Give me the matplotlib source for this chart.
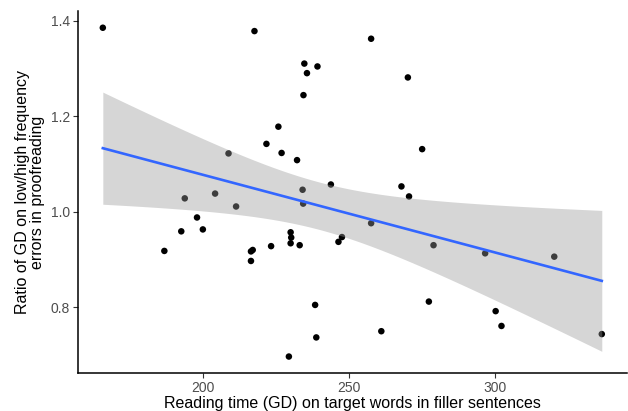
import numpy as np
import matplotlib
matplotlib.use("Agg")
import matplotlib.pyplot as plt

# reading time (GD) on target words in filler sentences
reading_time = [165.5, 217.5, 234.6, 235.5, 239.1, 234.3, 257.5, 270.1, 275.0, 225.7,
                221.6, 208.6, 226.8, 232.1, 234.0, 234.2, 193.6, 204.0, 211.2, 243.7,
                267.9, 270.5, 257.5, 247.5, 246.3, 278.9, 296.6, 320.3, 233.0, 238.3,
                238.7, 261.0, 277.3, 300.2, 302.2, 336.6, 186.6, 192.4, 197.8, 199.8,
                216.3, 216.3, 216.9, 223.2, 229.9, 230.1, 229.9, 229.3]
# ratio of GD on low/high frequency errors in proofreading
gd_ratio = [1.385, 1.378, 1.310, 1.290, 1.304, 1.244, 1.362, 1.281, 1.131, 1.178,
            1.142, 1.122, 1.123, 1.108, 1.046, 1.017, 1.028, 1.038, 1.011, 1.057,
            1.053, 1.032, 0.976, 0.947, 0.937, 0.930, 0.913, 0.906, 0.930, 0.805,
            0.737, 0.750, 0.812, 0.792, 0.761, 0.744, 0.918, 0.959, 0.988, 0.963,
            0.897, 0.917, 0.920, 0.928, 0.957, 0.946, 0.934, 0.697]

x_ticks = [200, 250, 300]
y_ticks = [0.8, 1.0, 1.2, 1.4]

plt.rcParams['font.family'] = ['Liberation Sans', 'DejaVu Sans']

x = np.array(reading_time)
y = np.array(gd_ratio)

# linear fit + 95% confidence band, like geom_smooth(method="lm")
slope, intercept = np.polyfit(x, y, 1)
n = len(x)
resid = y - (slope * x + intercept)
s = np.sqrt(np.sum(resid ** 2) / (n - 2))
xs = np.linspace(x.min(), x.max(), 80)
ys = slope * xs + intercept
se = s * np.sqrt(1 / n + (xs - x.mean()) ** 2 / np.sum((x - x.mean()) ** 2))
tval = 2.0129  # t(0.975, df=46)

fig = plt.figure(figsize=(6.28, 4.11), dpi=100)
ax = fig.add_axes([0.124, 0.0925, 0.874, 0.88])

ax.scatter(x, y, s=22, color='black', edgecolors='none', zorder=2)
ax.fill_between(xs, ys - tval * se, ys + tval * se, color='#999999', alpha=0.4,
                linewidth=0, zorder=3)
ax.plot(xs, ys, color='#3366FF', linewidth=1.9, zorder=4)

xr = x.max() - x.min()
yr = y.max() - y.min()
ax.set_xlim(x.min() - 0.05 * xr, x.max() + 0.05 * xr)
ax.set_ylim(y.min() - 0.05 * yr, y.max() + 0.05 * yr)
ax.set_xticks(x_ticks)
ax.set_yticks(y_ticks)
ax.set_yticklabels([f'{v:.1f}' for v in y_ticks])

for side in ['top', 'right']:
    ax.spines[side].set_visible(False)
for side in ['left', 'bottom']:
    ax.spines[side].set_linewidth(1.1)
ax.tick_params(length=3.5, width=0.8, color='#333333', labelcolor='#4D4D4D',
               labelsize=10, pad=2)

ax.set_xlabel('Reading time (GD) on target words in filler sentences', fontsize=11.5,
              labelpad=1)
ax.set_ylabel('Ratio of GD on low/high frequency\nerrors in proofreading', fontsize=11.5,
              labelpad=4, linespacing=1.0)

fig.savefig('out.png', dpi=100)
